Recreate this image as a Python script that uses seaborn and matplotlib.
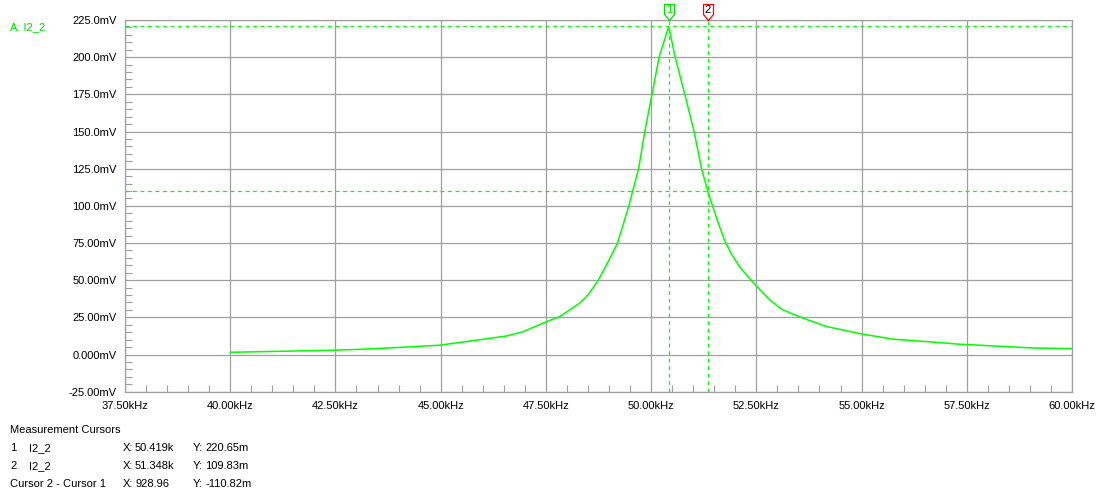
import matplotlib
matplotlib.use("Agg")
import matplotlib.pyplot as plt
import matplotlib.transforms as mtransforms
from matplotlib.path import Path
from matplotlib.ticker import MultipleLocator, FixedLocator
import seaborn as sns
import pandas as pd
import numpy as np

# ---------------- data ----------------
freq_khz = [40.0, 41.22, 42.44, 43.16, 44.1, 44.98, 45.78, 46.57, 46.96, 47.5, 47.83,
            48.3, 48.5, 48.75, 49.0, 49.2, 49.47, 49.56, 49.70, 49.85, 50.02, 50.19,
            50.419, 50.57, 50.80, 51.02, 51.20, 51.348, 51.46, 51.6, 51.75, 51.9, 52.1,
            52.39, 52.59, 52.82, 53.1, 53.38, 53.75, 54.17, 54.99, 55.75, 56.55, 57.34,
            57.5, 59.07, 60.0]
volt_mv = [1.5, 2.2, 2.9, 3.6, 4.9, 6.3, 9.4, 12.5, 15.4, 21.9, 25.5,
           34.5, 40.0, 50.2, 63.6, 74.8, 99.9, 109.8, 124.6, 150.0, 175.0, 200.0,
           220.65, 200.0, 175.0, 150.0, 124.6, 109.83, 99.9, 88.0, 76.5, 68.0, 59.0,
           49.5, 43.4, 36.7, 30.5, 27.0, 23.0, 18.8, 13.9, 10.3, 8.7, 6.9,
           6.7, 4.4, 4.0]

cursor_ids = ["1", "2"]
cursor_x = [50.419, 51.348]
cursor_y = [220.65, 109.83]
cursor_edge = ["#00e000", "#ff0000"]
cursor_text = ["#00e000", "#000000"]

x_ticks = [37.5, 40.0, 42.5, 45.0, 47.5, 50.0, 52.5, 55.0, 57.5, 60.0]
x_labels = ["37.50kHz", "40.00kHz", "42.50kHz", "45.00kHz", "47.50kHz",
            "50.00kHz", "52.50kHz", "55.00kHz", "57.50kHz", "60.00kHz"]
y_ticks = [-25, 0, 25, 50, 75, 100, 125, 150, 175, 200, 225]
y_labels = ["-25.00mV", "0.000mV", "25.00mV", "50.00mV", "75.00mV", "100.0mV",
            "125.0mV", "150.0mV", "175.0mV", "200.0mV", "225.0mV"]

meas_rows = [
    ("1", "I2_2", "X:", "50.419k", "Y:", "220.65m"),
    ("2", "I2_2", "X:", "51.348k", "Y:", "109.83m"),
]
diff_row = ("Cursor 2 - Cursor 1", "X:", "928.96", "Y:", "-110.82m")

# ---------------- style ----------------
sns.set_style("white")
plt.rcParams["font.family"] = ["Liberation Sans", "DejaVu Sans"]
plt.rcParams["font.size"] = 8

GREEN = "#00ff00"
GRID = "#a0a0a0"

W, H = 1112, 501
fig = plt.figure(figsize=(W / 100, H / 100), dpi=100)
left, right, top, bottom = 125, 1072, 20, 391.7
ax = fig.add_axes([left / W, (H - bottom) / H, (right - left) / W, (bottom - top) / H])

df = pd.DataFrame({"f": freq_khz, "v": volt_mv})
sns.lineplot(data=df, x="f", y="v", ax=ax, color=GREEN, lw=1.1,
             estimator=None, sort=False, zorder=5)

ax.set_xlim(37.5, 60.0)
ax.set_ylim(-25, 225)
ax.set_xlabel("")
ax.set_ylabel("")

ax.xaxis.set_major_locator(FixedLocator(x_ticks))
ax.set_xticklabels(x_labels)
ax.yaxis.set_major_locator(FixedLocator(y_ticks))
ax.set_yticklabels(y_labels)
ax.xaxis.set_minor_locator(MultipleLocator(0.5))
ax.yaxis.set_minor_locator(MultipleLocator(5))

ax.tick_params(axis="both", which="major", length=0, labelsize=8, colors="black")
ax.tick_params(axis="x", which="major", pad=7)
ax.tick_params(axis="y", which="major", pad=6)
ax.tick_params(axis="both", which="minor", direction="in", length=5,
               width=0.8, color=GRID)
ax.tick_params(axis="x", which="minor", bottom=True)
ax.tick_params(axis="y", which="minor", left=True)

ax.grid(True, which="major", color=GRID, lw=0.9)
for s in ax.spines.values():
    s.set_visible(True)
    s.set_color(GRID)
    s.set_linewidth(0.9)

# cursor lines
for cx, cy in zip(cursor_x, cursor_y):
    ax.axvline(cx, color=GREEN, lw=0.9, ls=(0, (3, 3)), zorder=4)
    ax.axhline(cy, color=GREEN, lw=0.9, ls=(0, (3, 3)), zorder=4)

# cursor flags
flag = Path([(-5, 16), (5, 16), (5, 6), (0, 0), (-5, 6), (-5, 16)],
            [Path.MOVETO, Path.LINETO, Path.LINETO, Path.LINETO, Path.LINETO, Path.CLOSEPOLY])
trans = mtransforms.blended_transform_factory(ax.transData, ax.transAxes)
for cid, cx, ec, tc in zip(cursor_ids, cursor_x, cursor_edge, cursor_text):
    ax.plot([cx], [1.0], marker=flag, markersize=23, markerfacecolor="white",
            markeredgecolor=ec, markeredgewidth=0.9, transform=trans,
            clip_on=False, zorder=10)
    ax.annotate(cid, xy=(cx, 1.0), xycoords=trans, xytext=(0, 7.5),
                textcoords="offset points", ha="center", va="center",
                fontsize=8, color=tc, zorder=11, annotation_clip=False)

# trace label
fig.text(10 / W, 1 - 27 / H, "A: I2_2", color="#00e000", fontsize=8,
         ha="left", va="center")

# measurement table
def ft(xp, yp, s):
    fig.text(xp / W, 1 - yp / H, s, fontsize=8, ha="left", va="center", color="black")

ft(10, 430, "Measurement Cursors")
row_y = [448, 466]
for yy, row in zip(row_y, meas_rows):
    for xp, s in zip([10, 29, 123, 135, 193, 205], row):
        ft(xp, yy, s)
for xp, s in zip([10, 123, 135, 193, 205], diff_row):
    ft(xp, 484, s)

fig.savefig("out.png", dpi=100)
